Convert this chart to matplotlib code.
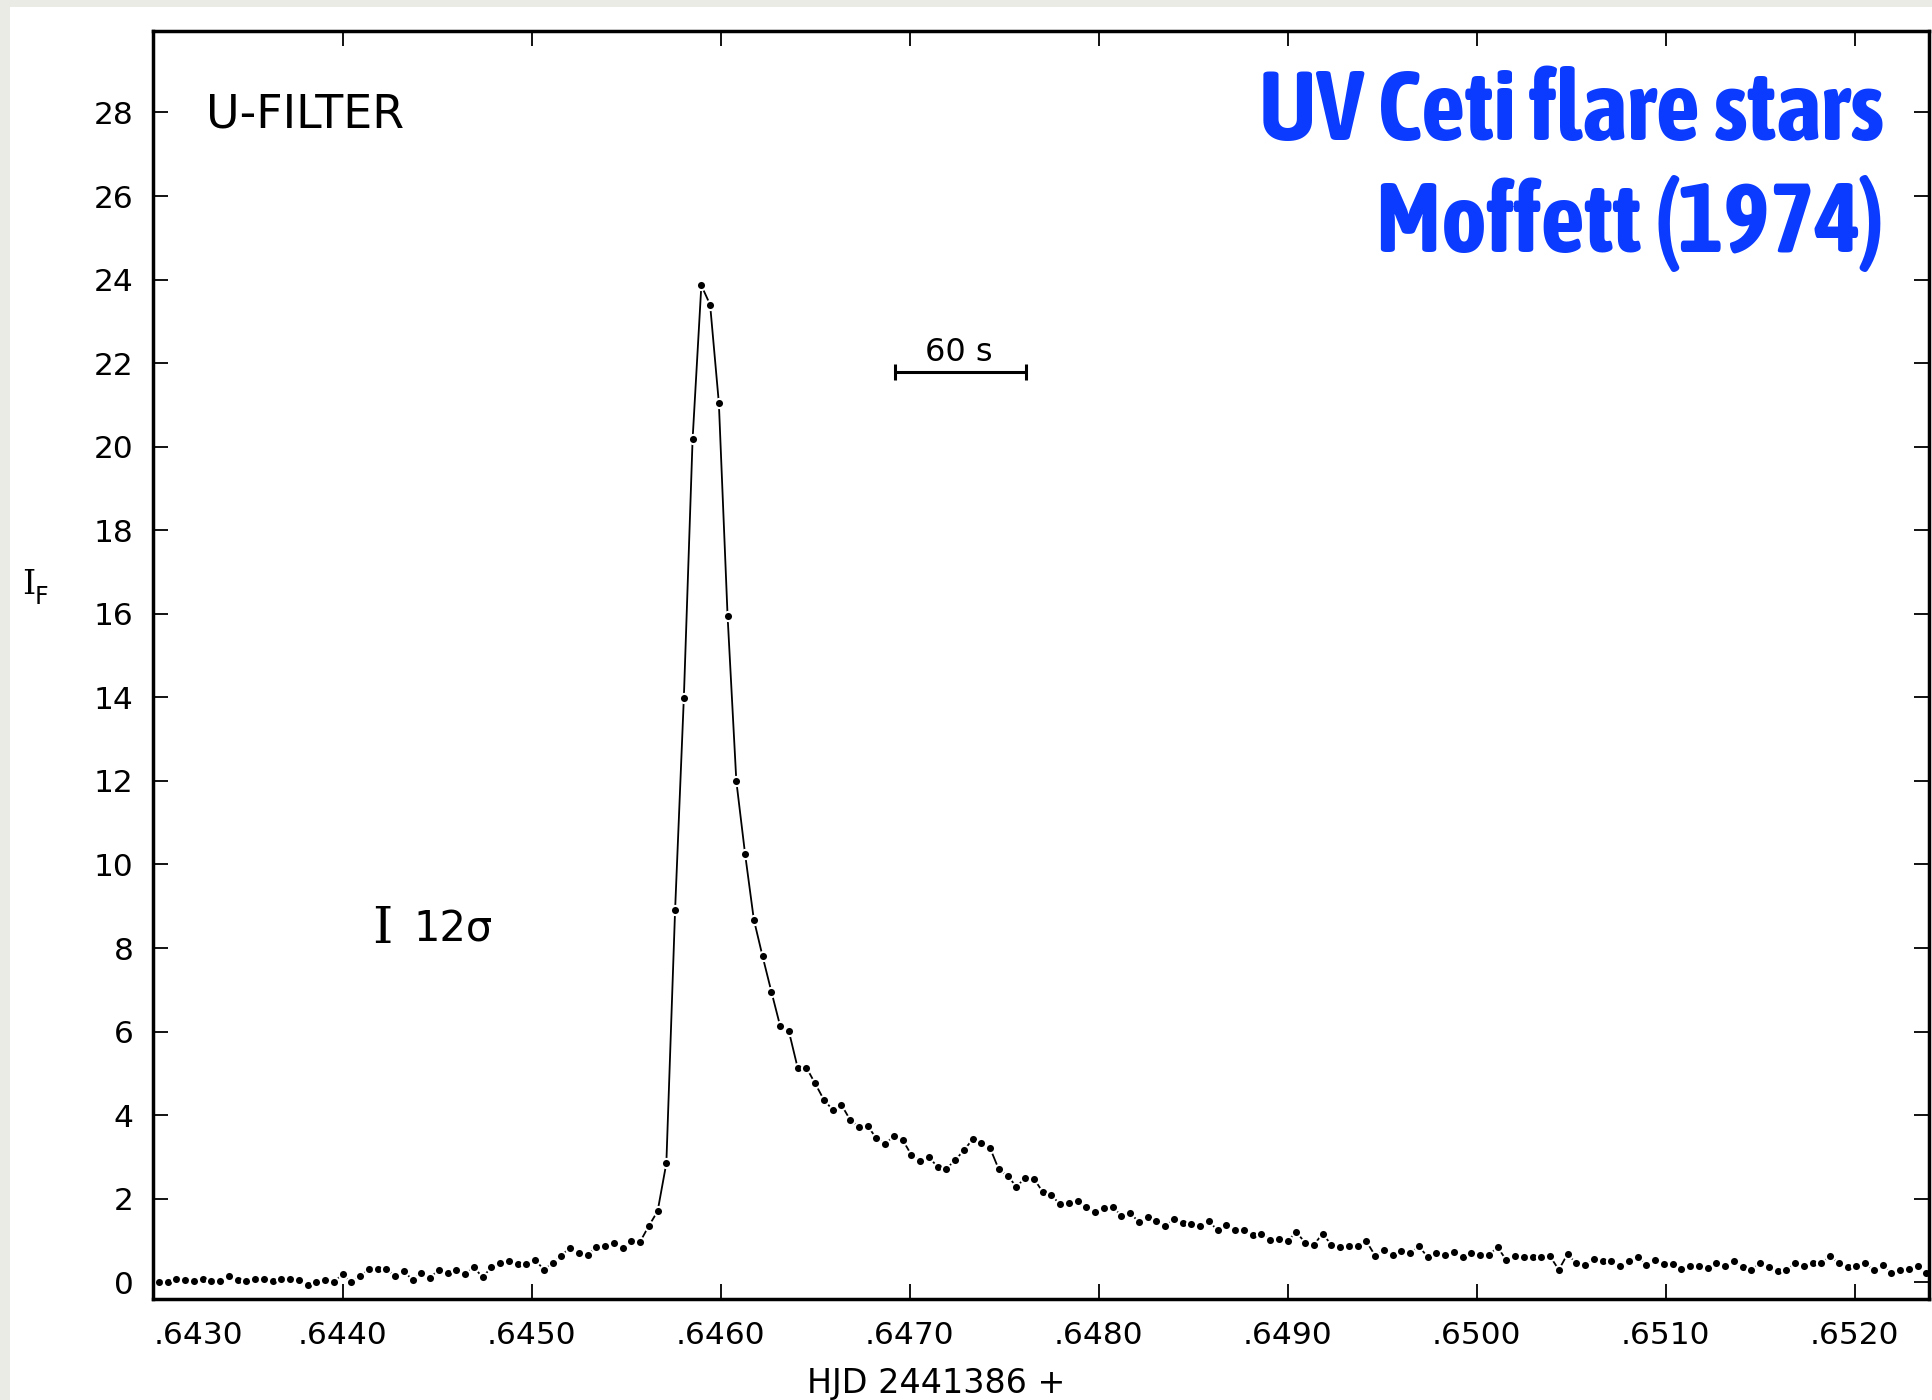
import numpy as np
import matplotlib
matplotlib.use("Agg")
import matplotlib.pyplot as plt
from matplotlib import font_manager
from matplotlib.patches import Rectangle

# U-filter flare light curve, one point per 4 s integration
t_start = 0.643028          # HJD 2441386 + , first sample
t_step = 4.0 / 86400.0      # 4 s in days
flux = [
    0.00, 0.00, 0.08, 0.06, 0.04, 0.08, 0.04, 0.04, 0.14, 0.06,
    0.04, 0.09, 0.09, 0.03, 0.08, 0.08, 0.06, -0.07, 0.01, 0.06,
    0.01, 0.19, 0.00, 0.15, 0.31, 0.32, 0.31, 0.15, 0.26, 0.06,
    0.23, 0.11, 0.30, 0.23, 0.30, 0.20, 0.36, 0.12, 0.36, 0.46,
    0.52, 0.44, 0.44, 0.54, 0.30, 0.46, 0.64, 0.83, 0.70, 0.66,
    0.84, 0.86, 0.95, 0.81, 0.98, 0.97,
    # flare
    1.35, 1.70, 2.85, 8.91, 13.99, 20.18, 23.86, 23.40, 21.05, 15.94,
    11.99, 10.25, 8.68, 7.80, 6.96, 6.14, 6.01, 5.14, 5.14, 4.76,
    # decay
    4.37, 4.13, 4.25, 3.89, 3.72, 3.74, 3.45, 3.32, 3.49, 3.41,
    3.05, 2.90, 3.00, 2.76, 2.72, 2.92, 3.16, 3.42, 3.33, 3.21,
    2.70, 2.55, 2.29, 2.49, 2.48, 2.17, 2.08, 1.87, 1.90, 1.94,
    1.80, 1.69, 1.77, 1.81, 1.59, 1.65, 1.45, 1.56, 1.47, 1.34,
    1.51, 1.43, 1.39, 1.35, 1.47, 1.24, 1.38, 1.26, 1.25, 1.14,
    1.15, 1.02, 1.04, 0.99, 1.20, 0.95, 0.90,
    1.16, 0.90, 0.84, 0.88, 0.88, 0.98, 0.64, 0.78, 0.66, 0.76,
    0.69, 0.86, 0.61, 0.70, 0.66, 0.73, 0.61, 0.70, 0.66, 0.65,
    0.84, 0.53, 0.62, 0.60, 0.60, 0.60, 0.62, 0.30, 0.68, 0.45,
    0.42, 0.56, 0.50, 0.50, 0.38, 0.50, 0.61, 0.42, 0.53, 0.44,
    0.44, 0.33, 0.40, 0.40, 0.34, 0.45, 0.38, 0.50, 0.36, 0.30,
    0.46, 0.37, 0.26, 0.30, 0.45, 0.38, 0.45, 0.46, 0.62, 0.46,
    0.37, 0.40, 0.45, 0.29, 0.42, 0.22, 0.30, 0.33, 0.38, 0.22,
]
times = t_start + t_step * np.arange(len(flux))

xticks = [0.6430, 0.6440, 0.6450, 0.6460, 0.6470, 0.6480, 0.6490,
          0.6500, 0.6510, 0.6520]
xticklabels = [".6430", ".6440", ".6450", ".6460", ".6470", ".6480",
               ".6490", ".6500", ".6510", ".6520"]
yticks = [0, 2, 4, 6, 8, 10, 12, 14, 16, 18, 20, 22, 24, 26, 28]

# 60 s scale bar
bar_start = 0.646923
bar_len = 60.0 / 86400.0
bar_level = 21.8

W, H = 1932, 1400
blue = "#0B3BFF"

fig = plt.figure(figsize=(W / 100, H / 100), dpi=100)
fig.patch.set_facecolor("#EBEBE6")
fig.add_artist(Rectangle((10 / W, 0), 1, 1 - 7 / H, transform=fig.transFigure,
                         facecolor="white", edgecolor="none", zorder=-5))

ax = fig.add_axes([153 / W, 1 - 1299 / H, (1929 - 153) / W, (1299 - 31) / H])
ax.set_facecolor("white")

# white ring round each dot leaves the little gaps of the hand-drawn curve
ax.plot(times, flux, color="black", lw=1.3, marker="o", ms=6.6,
        mfc="black", mec="white", mew=1.5)

ax.errorbar(bar_start + bar_len / 2, bar_level, xerr=bar_len / 2, fmt="none",
            ecolor="black", elinewidth=2.2, capsize=5.5, capthick=2.2)

ax.set_xlim(0.642997, 0.652394)
ax.set_ylim(-0.40, 29.95)
ax.set_xticks(xticks)
ax.set_xticklabels(xticklabels)
ax.set_yticks(yticks)
ax.tick_params(direction="in", top=True, right=True, length=11, width=1.3,
               labelsize=22.5)
ax.tick_params(axis="x", pad=16)
ax.tick_params(axis="y", pad=14)
ax.get_xticklabels()[0].set_horizontalalignment("left")
for s in ax.spines.values():
    s.set_linewidth(2.5)


def is_bold(w):
    if isinstance(w, str):
        return w in ("bold", "heavy", "black", "extra bold", "semibold", "demibold")
    return w >= 600


# title font: a bold narrow face if one is installed
narrow = sorted({f.name for f in font_manager.fontManager.ttflist
                 if ("Narrow" in f.name or "Condensed" in f.name)})
narrow_bold = sorted({f.name for f in font_manager.fontManager.ttflist
                      if ("Narrow" in f.name or "Condensed" in f.name)
                      and is_bold(f.weight)})
if narrow_bold:
    tfam, tsize = narrow_bold[0], 70
elif narrow:
    tfam, tsize = narrow[0], 67
else:
    tfam, tsize = "DejaVu Sans", 48
fig.text(1884 / W, 1 - 140 / H, "UV Ceti flare stars", ha="right", va="baseline",
         color=blue, fontsize=tsize, family=tfam, fontweight="bold")
fig.text(1884 / W, 1 - 252 / H, "Moffett (1974)", ha="right", va="baseline",
         color=blue, fontsize=tsize, family=tfam, fontweight="bold")

fig.text(206 / W, 1 - 128 / H, "U-FILTER", va="baseline", fontsize=33)
fig.text(959 / W, 1 - 361 / H, "60 s", ha="center", va="baseline", fontsize=23)
fig.text(382.5 / W, 1 - 943 / H, "I", ha="center", va="baseline",
         family="DejaVu Serif", fontsize=37)
fig.text(413 / W, 1 - 941 / H, "12σ", va="baseline", fontsize=30)

fig.text(936 / W, 1 - 1393 / H, "HJD 2441386 +", ha="center", va="baseline",
         fontsize=24)
fig.text(22 / W, 1 - 594 / H, "I", va="baseline", family="DejaVu Serif",
         fontsize=24)
fig.text(35 / W, 1 - 604 / H, "F", va="baseline", fontsize=17)

fig.savefig("out.png", dpi=100)
